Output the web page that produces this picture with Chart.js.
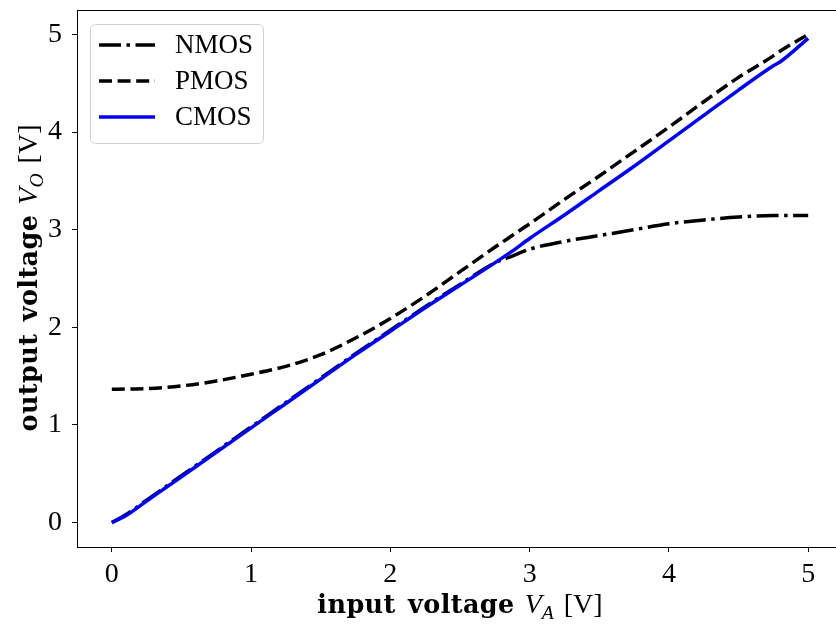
<!DOCTYPE html>
<html>
<head>
<meta charset="utf-8">
<script src="https://cdn.jsdelivr.net/npm/chart.js@4.4.1/dist/chart.umd.min.js"></script>
<style>
  html, body { margin: 0; padding: 0; background: #fff; overflow: hidden; }
  #wrap { position: absolute; left: 0; top: 0; width: 846px; height: 624px; }
  .title { position: absolute; font-family: "Liberation Serif", serif; font-size: 28px; line-height: 28px;
           color: #000; white-space: nowrap; text-align: center; word-spacing: 3px; }
  .title b { font-family: "DejaVu Serif", serif; font-size: 25.5px; letter-spacing: 0.4px; }
  .title sub { font-size: 0.7em; vertical-align: -0.3em; line-height: 0; }
  #xtitle { left: 0; width: 920px; top: 590px; }
  #ytitle { left: -252px; top: 264px; width: 560px; height: 28px; transform: rotate(-90deg); }
</style>
</head>
<body>
<div id="wrap">
  <canvas id="vtc" width="846" height="624"></canvas>
  <div class="title" id="xtitle"><b>input voltage</b> <i>V</i><sub><i>A</i></sub> [V]</div>
  <div class="title" id="ytitle"><b>output voltage</b> <i>V</i><sub><i>O</i></sub> [V]</div>
</div>
<script>
// input voltage samples (V)
const vA   = [0, 0.1, 0.25, 0.5, 0.75, 1, 1.25, 1.5, 1.75, 2, 2.25, 2.5, 2.75, 2.875, 3, 3.25, 3.5, 3.75, 4, 4.25, 4.5, 4.75, 4.8, 5];
const nmos = [0, 0.08, 0.23, 0.48, 0.73, 0.98, 1.23, 1.48, 1.73, 1.97, 2.21, 2.44, 2.66, 2.73, 2.80, 2.88, 2.94, 3.00, 3.06, 3.10, 3.13, 3.145, 3.146, 3.146];
const pmos = [1.366, 1.368, 1.372, 1.40, 1.45, 1.52, 1.60, 1.72, 1.89, 2.09, 2.32, 2.57, 2.82, 2.94, 3.06, 3.31, 3.55, 3.80, 4.05, 4.31, 4.56, 4.78, 4.83, 5.0];
const cmos = [0, 0.07, 0.22, 0.47, 0.72, 0.97, 1.22, 1.47, 1.72, 1.96, 2.20, 2.43, 2.66, 2.78, 2.91, 3.15, 3.40, 3.65, 3.91, 4.17, 4.43, 4.68, 4.72, 4.96];
const xTicks = [0, 1, 2, 3, 4, 5];
const yTicks = [0, 1, 2, 3, 4, 5];

const serif = "'Liberation Serif', serif";

function pts(ys) {
    return vA.map((x, i) => ({ x: x, y: ys[i] }));
}

// frame + legend box drawn like matplotlib
const frameAndLegend = {
    id: 'frameAndLegend',
    afterDraw(chart) {
        const ctx = chart.ctx;
        const a = chart.chartArea;
        ctx.save();
        ctx.strokeStyle = '#000';
        ctx.lineWidth = 1;
        ctx.strokeRect(a.left + 0.5, a.top + 0.5, a.right - a.left, a.bottom - a.top);

        const bx = a.left + 13, by = a.top + 14, bw = 173, bh = 119, r = 5;
        ctx.beginPath();
        ctx.roundRect(bx + 0.5, by + 0.5, bw, bh, r);
        ctx.fillStyle = 'rgba(255,255,255,0.8)';
        ctx.fill();
        ctx.strokeStyle = '#d0d0d0';
        ctx.stroke();

        ctx.font = "27px " + serif;
        ctx.textBaseline = 'middle';
        chart.data.datasets.forEach((ds, i) => {
            const y = by + 21 + i * 36;
            ctx.beginPath();
            ctx.setLineDash(ds.borderDash || []);
            ctx.strokeStyle = ds.borderColor;
            ctx.lineWidth = ds.borderWidth;
            ctx.moveTo(bx + 9, y);
            ctx.lineTo(bx + 65, y);
            ctx.stroke();
            ctx.setLineDash([]);
            ctx.fillStyle = '#000';
            ctx.fillText(ds.label, bx + 85, y + 1);
        });
        ctx.restore();
    }
};

const ctxV = document.getElementById('vtc').getContext('2d');

const vtcChart = new Chart(ctxV, {
    type: 'line',
    plugins: [frameAndLegend],
    data: {
        datasets: [{
            label: 'NMOS',
            data: pts(nmos),
            borderColor: '#000000',
            borderWidth: 3.5,
            borderDash: [22, 5.5, 3.5, 5.5],
            order: 3
        }, {
            label: 'PMOS',
            data: pts(pmos),
            borderColor: '#000000',
            borderWidth: 3.5,
            borderDash: [13, 5.6],
            order: 2
        }, {
            label: 'CMOS',
            data: pts(cmos),
            borderColor: '#0000ff',
            borderWidth: 3.5,
            order: 1
        }]
    },
    options: {
        responsive: false,
        animation: false,
        events: [],
        layout: { padding: { top: 10, right: 3, left: 0, bottom: 0 } },
        elements: {
            point: { radius: 0 },
            line: { fill: false, cubicInterpolationMode: 'monotone', borderCapStyle: 'butt' }
        },
        plugins: {
            legend: { display: false },
            tooltip: { enabled: false }
        },
        scales: {
            x: {
                type: 'linear',
                min: -0.25,
                max: 5.25,
                afterBuildTicks: s => { s.ticks = xTicks.map(v => ({ value: v })); },
                afterFit: s => { s.height = 77; s.paddingLeft = 0; s.paddingRight = 0; },
                grid: { drawOnChartArea: false, drawTicks: true, tickLength: 5, color: '#000', lineWidth: 1 },
                border: { display: true, color: '#000', width: 1 },
                ticks: { color: '#000', padding: 6, maxRotation: 0, font: { family: serif, size: 28 } }
            },
            y: {
                type: 'linear',
                min: -0.25,
                max: 5.25,
                afterBuildTicks: s => { s.ticks = yTicks.map(v => ({ value: v })); },
                afterFit: s => { s.width = 77; s.paddingTop = 0; s.paddingBottom = 0; },
                grid: { drawOnChartArea: false, drawTicks: true, tickLength: 5, color: '#000', lineWidth: 1 },
                border: { display: true, color: '#000', width: 1 },
                ticks: { color: '#000', padding: 10, font: { family: serif, size: 28 } }
            }
        }
    }
});
</script>
</body>
</html>
